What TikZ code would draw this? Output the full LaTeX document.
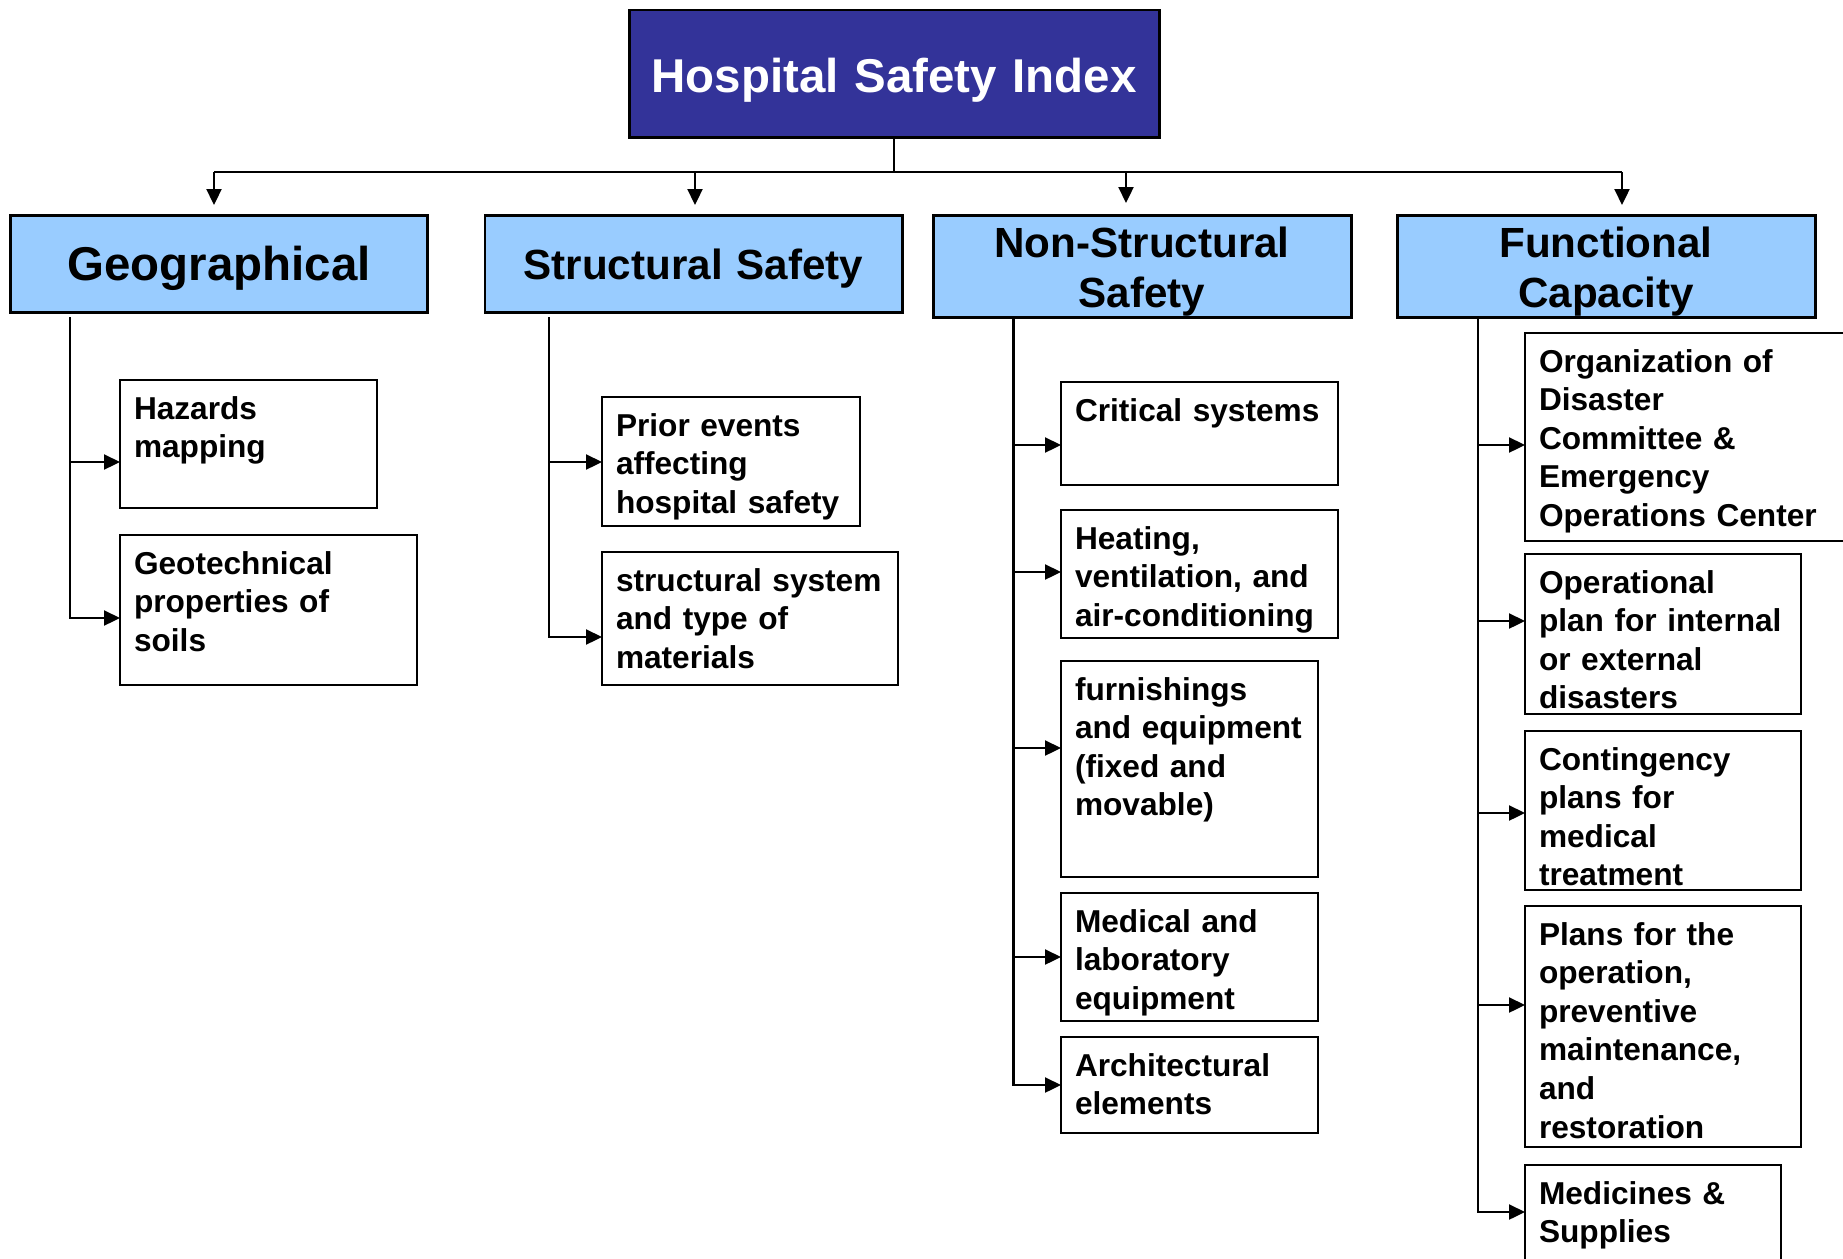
\documentclass[tikz,border=0pt]{standalone}
\usepackage{fontspec}
\setmainfont{Liberation Sans}
\usetikzlibrary{positioning}
\usetikzlibrary{calc,arrows.meta}
\definecolor{hsinavy}{RGB}{51,51,153}
\definecolor{hsisky}{RGB}{153,204,255}

\begin{document}
\begin{tikzpicture}[every node/.style={outer sep=0pt},
		index/.style={draw=black,line width=1.7pt,fill=hsinavy,text=white,anchor=north,inner sep=0pt,align=center,font=\fontsize{27}{32}\selectfont\bfseries},
		pillar/.style={draw=black,line width=1.7pt,fill=hsisky,anchor=north,inner sep=0pt,align=center,font=\fontsize{24}{28.45}\selectfont\bfseries},
		item/.style={draw=black,line width=1.6pt,anchor=north west,inner xsep=0.28cm,inner ysep=0pt,align=left,text height=0.78cm,font=\fontsize{18}{22}\selectfont\bfseries},
		wire/.style={line width=1.3pt},
		link/.style={wire,-{Triangle[length=0.32cm,width=0.3cm]}}
		]
		\clip (0,0) rectangle (36.86,-25.16);

		% top and second level
		\node[index,text width=10.6cm,text height=1.64cm,text depth=0.9cm] (hsi) at (17.88,-0.2) {Hospital Safety Index};
		\node[pillar,font=\fontsize{27}{32}\selectfont\bfseries,text width=8.34cm,text height=1.3cm,text depth=0.64cm] (geo) at (4.38,-4.3) {Geographical};
		\node[pillar,text width=8.34cm,text height=1.28cm,text depth=0.66cm] (struc) at (13.87,-4.3) {Structural Safety};
		\node[pillar,text width=8.36cm,text height=0.84cm,text depth=1.2cm] (nonstruc) at (22.84,-4.3) {Non-Structural\\Safety};
		\node[pillar,text width=8.36cm,text height=0.84cm,text depth=1.2cm] (func) at (32.12,-4.3) {Functional\\Capacity};

		% geographical
		\node[item,text width=4.58cm,text depth=1.78cm] (haz) at (2.4,-7.6) {Hazards\\mapping};
		\node[item,text width=5.38cm,text depth=2.22cm] (geot) at (2.4,-10.7) {Geotechnical\\properties of\\soils};
		% structural
		\node[item,text width=4.6cm,text depth=1.8cm] (prior) at (12.04,-7.94) {Prior events\\affecting\\hospital safety};
		\node[item,text width=5.36cm,text depth=1.88cm] (sys) at (12.04,-11.04) {structural system\\and type of\\materials};
		% non-structural
		\node[item,text width=4.98cm,text depth=1.28cm] (crit) at (21.22,-7.64) {Critical systems};
		\node[item,text width=4.98cm,text depth=1.78cm] (hvac) at (21.22,-10.2) {Heating,\\ventilation, and\\air-conditioning};
		\node[item,text width=4.58cm,text depth=3.54cm] (furn) at (21.22,-13.22) {furnishings\\and equipment\\(fixed and\\movable)};
		\node[item,text width=4.58cm,text depth=1.78cm] (lab) at (21.22,-17.86) {Medical and\\laboratory\\equipment};
		\node[item,text width=4.58cm,text depth=1.14cm] (arch) at (21.22,-20.74) {Architectural\\elements};
		% functional
		\node[item,text width=6.54cm,text depth=3.38cm] (org) at (30.5,-6.66) {Organization of\\Disaster\\Committee \&\\Emergency\\Operations Center};
		\node[item,text width=4.96cm,text depth=2.42cm] (oper) at (30.5,-11.08) {Operational\\plan for internal\\or external\\disasters};
		\node[item,text width=4.96cm,text depth=2.4cm] (cont) at (30.5,-14.62) {Contingency\\plans for\\medical\\treatment};
		\node[item,text width=4.96cm,text depth=4.04cm] (plans) at (30.5,-18.12) {Plans for the\\operation,\\preventive\\maintenance,\\and\\restoration};
		\node[item,text width=4.56cm,text depth=1.92cm] (supp) at (30.5,-23.3) {Medicines \&\\Supplies};

		% bus from the index
		\coordinate (bus) at (0,-3.44);
		\coordinate (d1) at (4.28,-3.44);
		\coordinate (d2) at (13.9,-3.44);
		\coordinate (d3) at (22.52,-3.44);
		\coordinate (d4) at (32.44,-3.44);
		\draw[wire] (hsi.south) -- (hsi.south |- bus);
		\draw[wire] (d1) -- (d4);
		\draw[link,shorten >=0.2cm] (d1) -- (d1 |- geo.north);
		\draw[link,shorten >=0.2cm] (d2) -- (d2 |- struc.north);
		\draw[link,shorten >=0.24cm] (d3) -- (d3 |- nonstruc.north);
		\draw[link,shorten >=0.2cm] (d4) -- (d4 |- func.north);

		% trunks
		\coordinate (gtop) at (1.4,-6.34);
		\coordinate (stop) at (10.98,-6.34);
		\coordinate (ntop) at (20.27,-6.34);
		\coordinate (ftop) at (29.56,-6.34);

		\coordinate (haz-in) at ([yshift=-1.64cm]haz.north west);
		\coordinate (geot-in) at ([yshift=-1.66cm]geot.north west);
		\draw[link] (haz-in -| gtop) -- (haz-in);
		\draw[link] (gtop) |- (geot-in);

		\coordinate (prior-in) at ([yshift=-1.3cm]prior.north west);
		\coordinate (sys-in) at ([yshift=-1.7cm]sys.north west);
		\draw[link] (prior-in -| stop) -- (prior-in);
		\draw[link] (stop) |- (sys-in);

		\coordinate (crit-in) at ([yshift=-1.26cm]crit.north west);
		\coordinate (hvac-in) at ([yshift=-1.24cm]hvac.north west);
		\coordinate (furn-in) at ([yshift=-1.74cm]furn.north west);
		\coordinate (lab-in) at ([yshift=-1.28cm]lab.north west);
		\coordinate (arch-in) at ([yshift=-0.96cm]arch.north west);
		\draw[link] (crit-in -| ntop) -- (crit-in);
		\draw[link] (hvac-in -| ntop) -- (hvac-in);
		\draw[link] (furn-in -| ntop) -- (furn-in);
		\draw[link] (lab-in -| ntop) -- (lab-in);
		\draw[link] (ntop) |- (arch-in);

		\coordinate (org-in) at ([yshift=-2.24cm]org.north west);
		\coordinate (oper-in) at ([yshift=-1.34cm]oper.north west);
		\coordinate (cont-in) at ([yshift=-1.64cm]cont.north west);
		\coordinate (plans-in) at ([yshift=-1.98cm]plans.north west);
		\coordinate (supp-in) at ([yshift=-0.94cm]supp.north west);
		\draw[link] (org-in -| ftop) -- (org-in);
		\draw[link] (oper-in -| ftop) -- (oper-in);
		\draw[link] (cont-in -| ftop) -- (cont-in);
		\draw[link] (plans-in -| ftop) -- (plans-in);
		\draw[link] (ftop) |- (supp-in);
	\end{tikzpicture}
\end{document}
